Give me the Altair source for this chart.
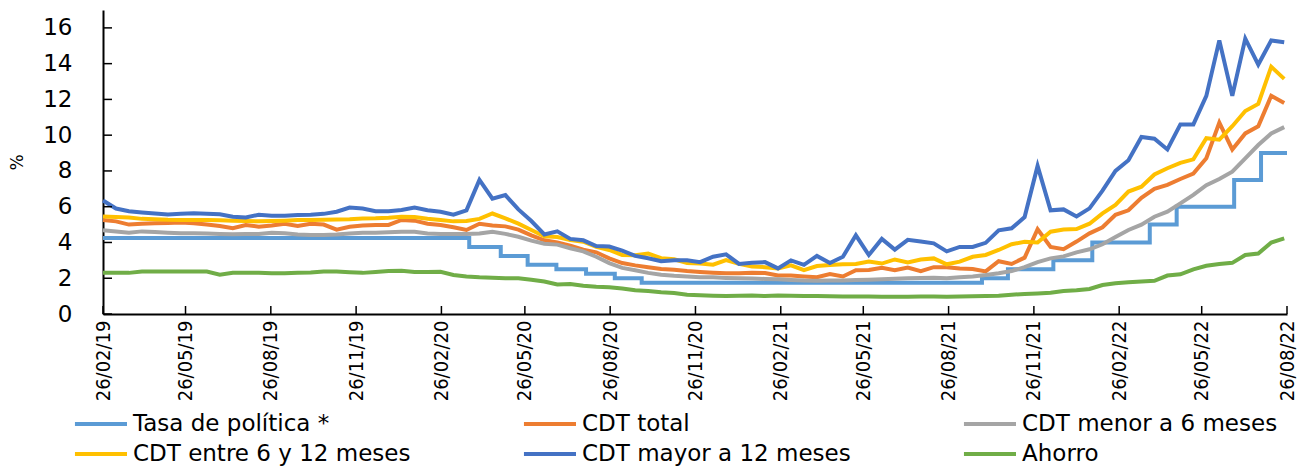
import altair as alt
import pandas as pd

# ---------------- data ----------------
start_date = "2019-02-26"
end_date = "2022-08-26"
n_points = 92  # biweekly observations
dates = pd.date_range(start_date, periods=n_points, freq="14D")

series_names = [
    "Tasa de política *",
    "CDT total",
    "CDT menor a 6 meses",
    "CDT entre 6 y 12 meses",
    "CDT mayor a 12 meses",
    "Ahorro",
]
series_colors = ["#5B9BD5", "#ED7D31", "#A5A5A5", "#FFC000", "#4472C4", "#70AD47"]

cdt_total = [
    5.26, 5.18, 5.0, 5.05, 5.07, 5.09, 5.11, 5.08, 5.0, 4.92,
    4.8, 4.98, 4.88, 4.95, 5.05, 4.92, 5.05, 5.0, 4.72, 4.88,
    4.95, 4.98, 4.98, 5.26, 5.22, 5.05, 4.98, 4.85, 4.7, 5.05,
    4.95, 4.9, 4.72, 4.4, 4.12, 4.0, 3.82, 3.6, 3.45, 3.11,
    2.85, 2.72, 2.62, 2.52, 2.47, 2.4, 2.35, 2.31, 2.28, 2.28,
    2.31, 2.29, 2.15, 2.15, 2.1, 2.06, 2.24, 2.1, 2.45, 2.46,
    2.58, 2.45, 2.6, 2.4, 2.62, 2.62, 2.55, 2.52, 2.38, 2.95,
    2.8, 3.15, 4.74, 3.75, 3.62, 4.05, 4.51, 4.85, 5.55, 5.8,
    6.5, 7.0, 7.22, 7.55, 7.85, 8.71, 10.7, 9.2, 10.1, 10.5,
    12.2, 11.8,
]
cdt_menor_6 = [
    4.68, 4.62, 4.55, 4.62, 4.58, 4.55, 4.52, 4.51, 4.5, 4.48,
    4.46, 4.48, 4.48, 4.55, 4.52, 4.45, 4.42, 4.42, 4.45, 4.5,
    4.55, 4.55, 4.57, 4.6, 4.6, 4.5, 4.47, 4.47, 4.47, 4.5,
    4.6, 4.48, 4.32, 4.1, 3.93, 3.88, 3.68, 3.5, 3.2, 2.85,
    2.58, 2.45, 2.3, 2.2, 2.14, 2.1, 2.06, 2.05, 2.02, 2.0,
    1.98, 1.96, 1.94, 1.9, 1.87, 1.86, 1.87, 1.88, 1.9, 1.92,
    1.95, 1.97, 2.0, 2.02, 2.03, 2.0, 2.05, 2.1, 2.18, 2.28,
    2.4, 2.62, 2.9, 3.11, 3.22, 3.45, 3.62, 3.9, 4.3, 4.7,
    5.0, 5.44, 5.72, 6.19, 6.66, 7.2, 7.55, 7.96, 8.7, 9.45,
    10.1, 10.45,
]
cdt_entre_6_12 = [
    5.45, 5.42, 5.39, 5.32, 5.3, 5.27, 5.26, 5.26, 5.25, 5.24,
    5.22, 5.2, 5.18, 5.2, 5.22, 5.25, 5.26, 5.27, 5.28, 5.3,
    5.34, 5.35, 5.38, 5.44, 5.42, 5.33, 5.26, 5.18, 5.2, 5.32,
    5.62, 5.35, 5.05, 4.7, 4.35, 4.3, 4.14, 4.04, 3.75, 3.58,
    3.3, 3.28, 3.38, 3.12, 3.06, 2.85, 2.83, 2.76, 3.02, 2.8,
    2.65, 2.62, 2.55, 2.72, 2.45, 2.68, 2.74, 2.78, 2.8, 2.93,
    2.82, 3.05, 2.88, 3.05, 3.11, 2.78, 2.93, 3.2, 3.3, 3.58,
    3.9, 4.04, 4.0, 4.6, 4.72, 4.75, 5.05, 5.63, 6.1, 6.85,
    7.12, 7.8, 8.15, 8.45, 8.65, 9.83, 9.75, 10.5, 11.35, 11.75,
    13.83, 13.15,
]
cdt_mayor_12 = [
    6.35, 5.9, 5.75, 5.68, 5.62, 5.56, 5.6, 5.63, 5.6, 5.58,
    5.44, 5.4, 5.55, 5.5, 5.5, 5.54, 5.55, 5.6, 5.72, 5.95,
    5.9, 5.75, 5.75, 5.82, 5.95, 5.8, 5.72, 5.55, 5.8, 7.5,
    6.45, 6.65, 5.85, 5.2, 4.45, 4.62, 4.2, 4.12, 3.8, 3.77,
    3.54, 3.25, 3.12, 2.95, 3.0, 3.0, 2.9, 3.2, 3.34, 2.8,
    2.87, 2.9, 2.55, 3.0, 2.75, 3.25, 2.85, 3.2, 4.4, 3.3,
    4.2, 3.6, 4.15, 4.05, 3.95, 3.5, 3.75, 3.75, 3.98, 4.68,
    4.79, 5.42, 8.28, 5.8, 5.85, 5.45, 5.91, 6.9, 8.0, 8.6,
    9.9, 9.8, 9.2, 10.6, 10.6, 12.2, 15.3, 12.2, 15.4, 13.95,
    15.3, 15.2,
]
ahorro = [
    2.31, 2.3, 2.3, 2.37, 2.37, 2.37, 2.37, 2.37, 2.37, 2.2,
    2.3, 2.3, 2.31, 2.28, 2.28, 2.3, 2.32, 2.37, 2.37, 2.33,
    2.3, 2.35, 2.4, 2.42, 2.35, 2.35, 2.36, 2.18, 2.1, 2.05,
    2.03, 2.0, 2.0, 1.92, 1.82, 1.65, 1.68, 1.58, 1.52, 1.49,
    1.42, 1.33, 1.28, 1.22, 1.18, 1.08, 1.05, 1.02, 1.0, 1.02,
    1.03, 1.0, 1.04, 1.02, 1.0, 1.0, 0.99, 0.98, 0.98, 0.98,
    0.96, 0.97, 0.97, 0.98, 0.98, 0.97, 0.98, 0.99, 1.0, 1.02,
    1.08, 1.12, 1.15, 1.19, 1.28, 1.33, 1.4, 1.62, 1.72, 1.78,
    1.82, 1.86, 2.15, 2.22, 2.5, 2.7, 2.8, 2.86, 3.3, 3.38,
    4.0, 4.23,
]

# policy rate: change dates and levels (step function)
policy_dates = [
    "2019-02-26", "2020-03-27", "2020-04-30", "2020-05-29", "2020-06-29",
    "2020-07-31", "2020-08-31", "2020-09-29", "2021-10-01", "2021-10-29",
    "2021-12-17", "2022-01-28", "2022-03-31", "2022-04-29", "2022-06-30",
    "2022-07-29", "2022-08-26",
]
policy_values = [4.25, 3.75, 3.25, 2.75, 2.5, 2.25, 2.0, 1.75, 2.0, 2.5,
                 3.0, 4.0, 5.0, 6.0, 7.5, 9.0, 9.0]

tick_dates = [
    "2019-02-26", "2019-05-26", "2019-08-26", "2019-11-26", "2020-02-26",
    "2020-05-26", "2020-08-26", "2020-11-26", "2021-02-26", "2021-05-26",
    "2021-08-26", "2021-11-26", "2022-02-26", "2022-05-26", "2022-08-26",
]
y_ticks = [0, 2, 4, 6, 8, 10, 12, 14, 16]

# ---------------- tables ----------------
rows = []
for name, vals in [
    ("CDT total", cdt_total),
    ("CDT menor a 6 meses", cdt_menor_6),
    ("CDT entre 6 y 12 meses", cdt_entre_6_12),
    ("CDT mayor a 12 meses", cdt_mayor_12),
    ("Ahorro", ahorro),
]:
    for d, v in zip(dates, vals):
        rows.append({"date": d.strftime("%Y-%m-%d"), "value": v, "serie": name,
                     "ord": series_names.index(name)})
lines_df = pd.DataFrame(rows)

policy_df = pd.DataFrame({
    "date": policy_dates,
    "value": policy_values,
    "serie": series_names[0],
})
xt_df = pd.DataFrame({"date": tick_dates})
yt_df = pd.DataFrame({"v": y_ticks})


def dt(s):
    t = pd.Timestamp(s)
    return alt.DateTime(year=t.year, month=t.month, date=t.day, utc=True)


W, H = 1184, 304
x_scale = alt.Scale(type="utc", domain=[dt(start_date), dt(end_date)])
y_scale = alt.Scale(domain=[0, 17], nice=False, zero=True)

color = alt.Color(
    "serie:N",
    scale=alt.Scale(domain=series_names, range=series_colors),
    legend=alt.Legend(
        orient="none", legendX=-8, legendY=397, columns=3, direction="horizontal",
        symbolType="M-2.47,0H1", symbolSize=900, symbolStrokeWidth=4,
        labelFont="DejaVu Sans", labelFontSize=23, labelColor="black", labelLimit=500,
        columnPadding=104, rowPadding=1, gridAlign="each", title=None,
        labelOffset=4, padding=0,
    ),
)

x_axis = alt.Axis(
    values=[dt(d) for d in tick_dates], format="%d/%m/%y", labelAngle=270,
    labelFont="Liberation Sans Narrow, DejaVu Sans Condensed, sans-serif",
    labelFontSize=20, labelColor="black", labelPadding=6, ticks=False, tickSize=0,
    domainColor="black", domainWidth=2, grid=False, title=None, labelOverlap=False,
)
y_axis = alt.Axis(
    values=y_ticks, title="%", titleFont="DejaVu Sans", titleFontSize=17,
    titleFontWeight="normal", titleColor="black", titleX=-77, titleY=152,
    labelFont="DejaVu Sans", labelFontSize=23, labelColor="black", labelPadding=31,
    ticks=False, tickSize=0, domainColor="black", domainWidth=2, grid=False,
)

policy = alt.Chart(policy_df).mark_line(strokeWidth=4, interpolate="step-after").encode(
    x=alt.X("date:T", scale=x_scale, axis=x_axis),
    y=alt.Y("value:Q", scale=y_scale, axis=y_axis),
    color=color,
)

lines = alt.Chart(lines_df).mark_line(strokeWidth=4).encode(
    x=alt.X("date:T", scale=x_scale, axis=None),
    y=alt.Y("value:Q", scale=y_scale, axis=None),
    color=color,
    order=alt.Order("ord:Q"),
)

x_ticks = alt.Chart(xt_df).mark_rule(color="black", strokeWidth=1.5).encode(
    x=alt.X("date:T", scale=x_scale, axis=None),
    y=alt.value(H), y2=alt.value(H - 8),
)
y_tick_marks = alt.Chart(yt_df).mark_rule(color="black", strokeWidth=1.5).encode(
    y=alt.Y("v:Q", scale=y_scale, axis=None),
    x=alt.value(0), x2=alt.value(9),
)

chart = alt.layer(policy, lines, x_ticks, y_tick_marks).resolve_axis(
    x="independent", y="independent"
).properties(
    width=W, height=H, padding={"left": 0, "top": 2, "right": 0, "bottom": 0},
    background="white",
).configure_view(stroke=None)

chart.save("out.html", embed_options={"renderer": "svg", "actions": False})
